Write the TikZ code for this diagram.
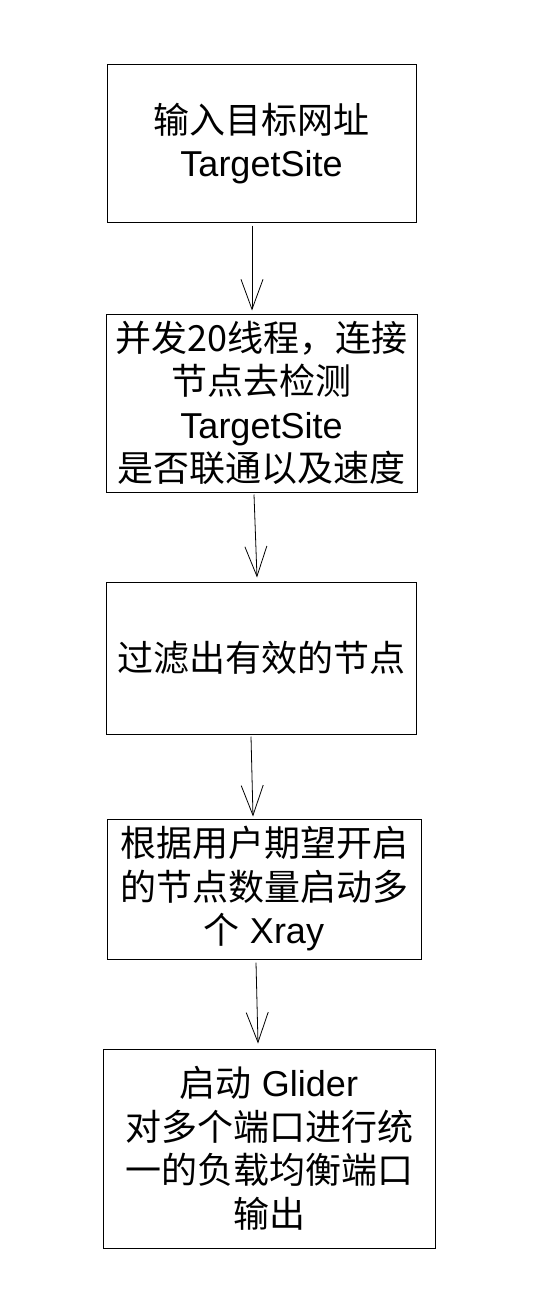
\documentclass[tikz,border=0pt]{standalone}
\usepackage{fontspec}
\setmainfont{Liberation Sans}
\newfontfamily\cjk{Noto Sans CJK SC}
\usetikzlibrary{arrows.meta}

\tikzset{
  flowbox/.style={draw, line width=1pt, align=center, inner sep=0pt,
    font=\fontsize{36}{43.5}\selectfont},
  flowarrow/.style={line width=0.8pt, -{Straight Barb[length=30pt,width=22pt,line width=0.8pt]}}
}

\begin{document}
\begin{tikzpicture}[x=1pt, y=-1pt]
        \useasboundingbox (0,0) rectangle (551,1300);

        \node[flowbox, minimum width=309pt, minimum height=157pt] (target) at (261.5,143.5)
          {{\cjk 输入目标网址}\\TargetSite};
        \node[flowbox, minimum width=311pt, minimum height=178pt] (probe) at (261.5,403)
          {{\cjk 并发20线程，连接}\\{\cjk 节点去检测}\\TargetSite\\{\cjk 是否联通以及速度}};
        \node[flowbox, minimum width=310pt, minimum height=152pt] (filter) at (261,658)
          {{\cjk 过滤出有效的节点}};
        \node[flowbox, minimum width=314pt, minimum height=140pt] (xray) at (264,889)
          {{\cjk 根据用户期望开启}\\{\cjk 的节点数量启动多}\\{\cjk 个} Xray};
        \node[flowbox, minimum width=332pt, minimum height=199pt] (glider) at (269,1148.5)
          {{\cjk 启动} Glider\\{\cjk 对多个端口进行统}\\{\cjk 一的负载均衡端口}\\{\cjk 输出}};

        \draw[flowarrow] ([xshift=-9.5pt, yshift=-3pt]target.south) -- ([xshift=-9.5pt, yshift=3pt]probe.north);
        \draw[flowarrow] ([xshift=-7.5pt, yshift=-2pt]probe.south) -- ([xshift=-4pt, yshift=4pt]filter.north);
        \draw[flowarrow] ([xshift=-10pt, yshift=-2pt]filter.south) -- ([xshift=-11pt, yshift=2pt]xray.north);
        \draw[flowarrow] ([xshift=-8pt, yshift=-3pt]xray.south) -- ([xshift=-11pt, yshift=5pt]glider.north);
\end{tikzpicture}
\end{document}
